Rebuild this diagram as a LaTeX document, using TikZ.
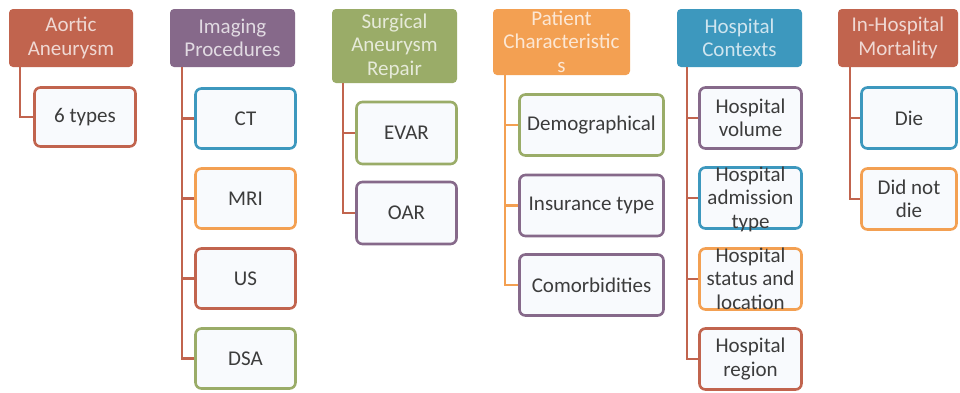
\documentclass[tikz,border=0pt]{standalone}
\usepackage{fontspec}
\setmainfont{Carlito}
\usepackage{xcolor}

\definecolor{aaRed}{HTML}{C1644E}
\definecolor{aaPurple}{HTML}{86698A}
\definecolor{aaGreen}{HTML}{9AAC68}
\definecolor{aaOrange}{HTML}{F3A052}
\definecolor{aaBlue}{HTML}{3D98BE}
\definecolor{leafbg}{HTML}{F8FAFD}
\definecolor{leaftext}{HTML}{3C3C3C}

% text that may spill over its box
\newcommand{\spill}[1]{\smash{\raisebox{-7pt}{\begin{tabular}{@{}c@{}}#1\end{tabular}}}}

\begin{document}
\begin{tikzpicture}[
    x=1pt, y=-1pt,
    every node/.style={
        align=center,
        inner sep=0pt,
        font=\fontsize{21}{23.5}\selectfont
    },
    hdr/.style={fill=#1, rounded corners=4pt, text=#1!25!white},
    leaf/.style={draw=#1, line width=2.6pt, fill=leafbg,
        rounded corners=6pt, text=leaftext},
    trunk/.style={draw=#1, line width=2.6pt}
]
\useasboundingbox[fill=white] (0,0) rectangle (960,392);

% headers
\node[hdr=aaRed, minimum width=124, minimum height=58] (aorta) at (71,38) {Aortic\\Aneurysm};
\node[hdr=aaPurple, minimum width=125, minimum height=58] (imaging) at (232.5,38) {Imaging\\Procedures};
\node[hdr=aaGreen, minimum width=125, minimum height=74] (surgery) at (394.5,46) {Surgical\\Aneurysm\\Repair};
\node[hdr=aaOrange, minimum width=137, minimum height=66] (patient) at (561.5,42) {\spill{Patient\\Characteristic\\s}};
\node[hdr=aaBlue, minimum width=125, minimum height=58] (hospital) at (739.5,38) {Hospital\\Contexts};
\node[hdr=aaRed, minimum width=120, minimum height=58] (mortality) at (898,38) {In-Hospital\\Mortality};

% leaves
\node[leaf=aaRed, minimum width=101, minimum height=59] (types) at (85,117) {6 types};

\node[leaf=aaBlue, minimum width=100, minimum height=60] (ct) at (245.5,118.5) {CT};
\node[leaf=aaOrange, minimum width=100, minimum height=60] (mri) at (245.5,198.5) {MRI};
\node[leaf=aaRed, minimum width=100, minimum height=60] (us) at (245.5,278.5) {US};
\node[leaf=aaGreen, minimum width=100, minimum height=60] (dsa) at (245.5,358.5) {DSA};

\node[leaf=aaGreen, minimum width=100, minimum height=62] (evar) at (406.5,133) {EVAR};
\node[leaf=aaPurple, minimum width=100, minimum height=62] (oar) at (406.5,213) {OAR};

\node[leaf=aaGreen, minimum width=144, minimum height=61] (demo) at (591.5,125) {Demographical};
\node[leaf=aaPurple, minimum width=144, minimum height=61] (insur) at (591.5,205.5) {Insurance type};
\node[leaf=aaPurple, minimum width=144, minimum height=61] (comorb) at (591.5,285) {Comorbidities};

\node[leaf=aaPurple, minimum width=102, minimum height=61] (volume) at (750.5,118) {Hospital\\volume};
\node[leaf=aaBlue, minimum width=102, minimum height=61] (admission) at (750.5,198) {\spill{Hospital\\admission\\type}};
\node[leaf=aaOrange, minimum width=102, minimum height=61] (status) at (750.5,279) {\spill{Hospital\\status and\\location}};
\node[leaf=aaRed, minimum width=102, minimum height=61] (region) at (750.5,359) {Hospital\\region};

\node[leaf=aaBlue, minimum width=95, minimum height=61] (die) at (909,118) {Die};
\node[leaf=aaOrange, minimum width=95, minimum height=61] (alive) at (909,199) {Did not\\die};

% connectors
\draw[trunk=aaRed] (aorta.south west) ++(11,0) |- (types.west);
\foreach \kid in {ct,mri,us,dsa}
    \draw[trunk=aaRed] (imaging.south west) ++(12,0) |- (\kid.west);
\foreach \kid in {evar,oar}
    \draw[trunk=aaRed] (surgery.south west) ++(11,0) |- (\kid.west);
\foreach \kid in {demo,insur,comorb}
    \draw[trunk=aaOrange] (patient.south west) ++(12,0) |- (\kid.west);
\foreach \kid in {volume,admission,status,region}
    \draw[trunk=aaRed] (hospital.south west) ++(10,0) |- (\kid.west);
\foreach \kid in {die,alive}
    \draw[trunk=aaRed] (mortality.south west) ++(12,0) |- (\kid.west);

\end{tikzpicture}
\end{document}
